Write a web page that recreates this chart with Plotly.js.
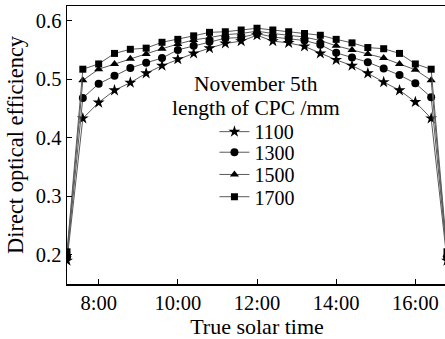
<!DOCTYPE html>
<html>
<head>
<meta charset="utf-8">
<script src="https://cdn.plot.ly/plotly-3.0.1.min.js"></script>
<style>
html,body{margin:0;padding:0;overflow:hidden;background:#fff;}
#chart{width:447px;height:339px;}
</style>
</head>
<body>
<div id="chart"></div>
<script>
// True solar time (hours)
const hours = [7.2, 7.6, 8.0, 8.4, 8.8, 9.2, 9.6, 10.0, 10.4, 10.8, 11.2, 11.6, 12.0,
               12.4, 12.8, 13.2, 13.6, 14.0, 14.4, 14.8, 15.2, 15.6, 16.0, 16.4, 16.8];
const eff1100 = [0.190, 0.433, 0.460, 0.481, 0.494, 0.510, 0.523, 0.534, 0.544, 0.553, 0.561, 0.565, 0.575,
                 0.565, 0.562, 0.556, 0.544, 0.533, 0.523, 0.510, 0.495, 0.481, 0.461, 0.433, 0.190];
const eff1300 = [0.196, 0.468, 0.492, 0.506, 0.519, 0.528, 0.536, 0.550, 0.557, 0.564, 0.570, 0.571, 0.578,
                 0.572, 0.569, 0.566, 0.559, 0.545, 0.537, 0.529, 0.518, 0.507, 0.493, 0.469, 0.196];
const eff1500 = [0.200, 0.498, 0.517, 0.526, 0.535, 0.543, 0.552, 0.560, 0.567, 0.571, 0.576, 0.578, 0.582,
                 0.578, 0.575, 0.572, 0.566, 0.557, 0.550, 0.543, 0.536, 0.526, 0.516, 0.498, 0.200];
const eff1700 = [0.205, 0.517, 0.526, 0.544, 0.551, 0.553, 0.563, 0.568, 0.574, 0.580, 0.581, 0.584, 0.587,
                 0.584, 0.581, 0.578, 0.575, 0.568, 0.562, 0.554, 0.552, 0.544, 0.526, 0.517, 0.205];
const seriesNames = ['1100', '1300', '1500', '1700'];
const legendTitleLines = ['November 5th', 'length of CPC /mm'];
const tickVals = [8, 10, 12, 14, 16];
const tickText = ['8:00', '10:00', '12:00', '14:00', '16:00'];

const FONT = 'Liberation Serif, Times New Roman, serif';
const symbols = ['star', 'circle', 'triangle-up', 'square'];
const sizes = [9, 8, 8, 7];
const ys = [eff1100, eff1300, eff1500, eff1700];
const legendIds = ['legend', 'legend2', 'legend3', 'legend4'];
const legendY = [0.548, 0.474, 0.394, 0.314];

const traces = ys.map((y, i) => ({
  x: hours, y: y, name: seriesNames[i], type: 'scatter', mode: 'lines+markers',
  legend: legendIds[i],
  line: {color: '#5a5a5a', width: 1},
  marker: {symbol: symbols[i], size: sizes[i], color: '#000000'}
}));

const layout = {
  width: 447, height: 339,
  margin: {l: 67, r: 0, t: 6, b: 55},
  paper_bgcolor: '#ffffff', plot_bgcolor: '#ffffff',
  font: {family: FONT, color: '#000000', size: 20},
  showlegend: true,
  annotations: legendTitleLines.map((t, i) => ({
    text: t, xref: 'paper', yref: 'paper', x: 0.497, y: [0.72, 0.633][i],
    xanchor: 'center', yanchor: 'middle', showarrow: false,
    font: {family: FONT, size: 21.5, color: '#000'}
  })),
  xaxis: {
    range: [7.2, 16.8], tickmode: 'array', tickvals: tickVals, ticktext: tickText,
    ticks: 'inside', ticklen: 5, tickwidth: 1, tickcolor: '#000',
    showline: true, linecolor: '#000', linewidth: 1.5, mirror: true,
    showgrid: false, zeroline: false,
    tickfont: {family: FONT, size: 20.5},
    title: {text: 'True solar time', font: {family: FONT, size: 22}, standoff: 0}
  },
  yaxis: {
    range: [0.15, 0.625], tickmode: 'array', tickvals: [0.2, 0.3, 0.4, 0.5, 0.6],
    ticktext: ['0.2', '0.3', '0.4', '0.5', '0.6'],
    ticks: 'inside', ticklen: 5, tickwidth: 1, tickcolor: '#000',
    showline: true, linecolor: '#000', linewidth: 1.5, mirror: true,
    showgrid: false, zeroline: false,
    tickfont: {family: FONT, size: 20.5},
    title: {text: 'Direct optical efficiency', font: {family: FONT, size: 22.5}, standoff: 6}
  }
};
legendIds.forEach((id, i) => {
  layout[id] = {
    x: 0.388, y: legendY[i], xanchor: 'left', yanchor: 'middle',
    bgcolor: 'rgba(0,0,0,0)', borderwidth: 0,
    font: {family: FONT, size: 20, color: '#000'}, itemwidth: 30
  };
});

Plotly.newPlot('chart', traces, layout, {staticPlot: true, displayModeBar: false});
</script>
</body>
</html>
